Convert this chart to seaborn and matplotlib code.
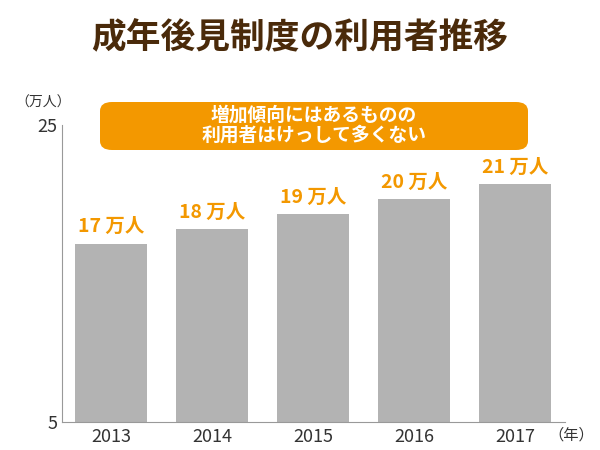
import matplotlib
matplotlib.use("Agg")
import matplotlib.pyplot as plt
import seaborn as sns
import pandas as pd
from matplotlib.patches import FancyBboxPatch

years = ["2013", "2014", "2015", "2016", "2017"]
users = [17, 18, 19, 20, 21]
value_labels = ["17 万人", "18 万人", "19 万人", "20 万人", "21 万人"]

plt.rcParams["font.family"] = "Noto Sans CJK JP"

df = pd.DataFrame({"year": years, "users": users})

fig = plt.figure(figsize=(6, 4.5), dpi=100)
ax = fig.add_axes([62 / 600, 28 / 450, 503 / 600, 297 / 450])

sns.barplot(data=df, x="year", y="users", color="#b3b3b3", saturation=1,
            width=0.713, ax=ax)

ax.set_xlim(-0.485, 4.495)
ax.set_ylim(5, 25)
ax.set_yticks([5, 25])
ax.set_xlabel("")
ax.set_ylabel("")
for s in ["top", "right"]:
    ax.spines[s].set_visible(False)
for s in ["left", "bottom"]:
    ax.spines[s].set_color("#999999")
ax.tick_params(axis="both", length=0, labelsize=13, colors="#333333")
ax.tick_params(axis="x", pad=4)

for i, (v, lab) in enumerate(zip(users, value_labels)):
    ax.text(i, v + 0.5, lab, ha="center", va="bottom", color="#f39800",
            fontsize=14, fontweight="bold")

fig.text(0.5, 0.915, "成年後見制度の利用者推移", ha="center", va="center",
         fontsize=25, fontweight="bold", color="#4a2a0a")
fig.text(15 / 600, 1 - 103 / 450, "（万人）", ha="left", va="center",
         fontsize=10, color="#333333")
fig.text(548 / 600, 1 - 435 / 450, "（年）", ha="left", va="center",
         fontsize=11, color="#333333")

box = FancyBboxPatch((100 / 600, 1 - 150 / 450), 428 / 600, 48 / 450,
                     boxstyle="round,pad=0,rounding_size=0.02",
                     transform=fig.transFigure, facecolor="#f39800",
                     edgecolor="none")
fig.patches.append(box)
fig.text(314 / 600, 1 - 125 / 450, "増加傾向にはあるものの\n利用者はけっして多くない",
         ha="center", va="center", fontsize=13.5, fontweight="bold",
         color="white", linespacing=1.05)

fig.savefig("out.png", dpi=100)
